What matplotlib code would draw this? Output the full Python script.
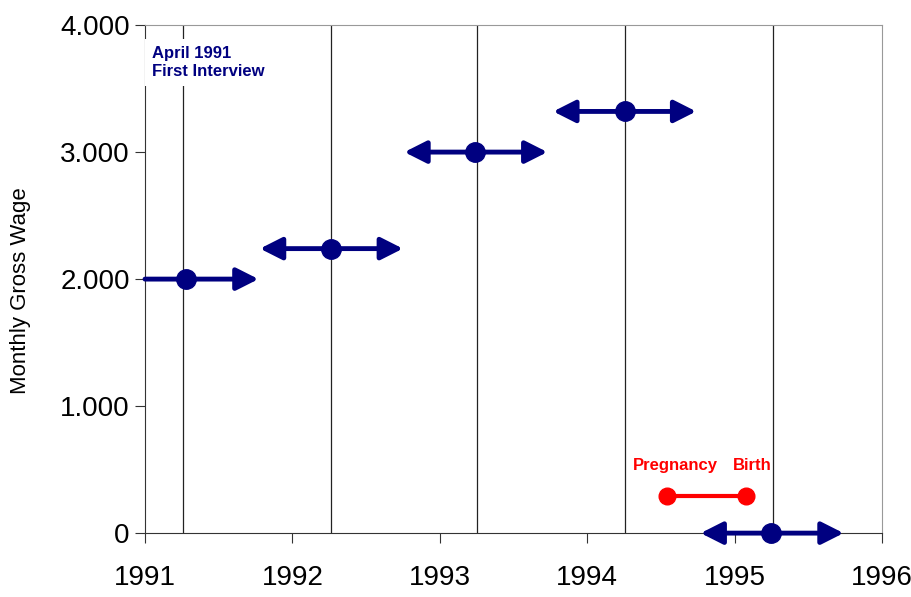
import matplotlib.pyplot as plt
from matplotlib.patches import FancyArrowPatch

plt.rcParams['font.family'] = ['Liberation Sans', 'DejaVu Sans']

# interview dates (vertical lines) and wage observations
interview_x = [1991.26, 1992.26, 1993.25, 1994.26, 1995.26]
wage_x = [1991.28, 1992.26, 1993.24, 1994.26, 1995.25]
wage_y = [2000, 2240, 3000, 3320, 0]

# validity spans of each wage value
span_start = [1991.0, 1991.78, 1992.76, 1993.77, 1994.77]
span_end = [1991.77, 1992.75, 1993.73, 1994.74, 1995.74]
left_head = [False, True, True, True, True]

# pregnancy episode
preg_x = [1994.54, 1995.08]
preg_y = [290, 290]

NAVY = "#000080"
RED = "#ff0000"

fig = plt.figure(figsize=(9.12, 5.97), dpi=100)
ax = fig.add_axes([0.159, 0.107, 0.808, 0.851])

for x in interview_x:
    ax.axvline(x, color="#222222", lw=0.9, zorder=1)

for s, e, y, lh in zip(span_start, span_end, wage_y, left_head):
    style = "<|-|>" if lh else "-|>"
    arr = FancyArrowPatch((s, y), (e, y), arrowstyle=style + ",head_length=0.95,head_width=0.48",
                          mutation_scale=14, color=NAVY, lw=3.5, shrinkA=0, shrinkB=0,
                          zorder=3, clip_on=False)
    ax.add_patch(arr)

ax.plot(wage_x, wage_y, "o", color=NAVY, ms=14, zorder=4, clip_on=False)

ax.plot(preg_x, preg_y, "-o", color=RED, lw=3, ms=12, zorder=4)
ax.text(1994.60, 535, "Pregnancy", color=RED, fontsize=12, fontweight="bold",
        ha="center", va="center")
ax.text(1995.12, 535, "Birth", color=RED, fontsize=12, fontweight="bold",
        ha="center", va="center")

ax.text(1991.05, 3705, "April 1991\nFirst Interview", color=NAVY, fontsize=12,
        fontweight="bold", ha="left", va="center", linespacing=1.2, zorder=5,
        bbox=dict(facecolor="white", edgecolor="none", pad=5))

ax.set_xlim(1991, 1996)
ax.set_ylim(0, 4000)
ax.set_xticks([1991, 1992, 1993, 1994, 1995, 1996])
ax.set_yticks([0, 1000, 2000, 3000, 4000])
ax.set_yticklabels(["0", "1.000", "2.000", "3.000", "4.000"])
ax.tick_params(labelsize=20, direction="out", length=7, width=0.8, color="#333333")
ax.tick_params(axis="y", pad=4)
ax.tick_params(axis="x", pad=16)
ax.set_ylabel("Monthly Gross Wage", fontsize=16)
ax.yaxis.set_label_coords(-0.155, 0.478)

for side in ["top", "right"]:
    ax.spines[side].set_color("#999999")
for side in ["left", "bottom"]:
    ax.spines[side].set_color("#333333")

fig.savefig("out.png", dpi=100)
